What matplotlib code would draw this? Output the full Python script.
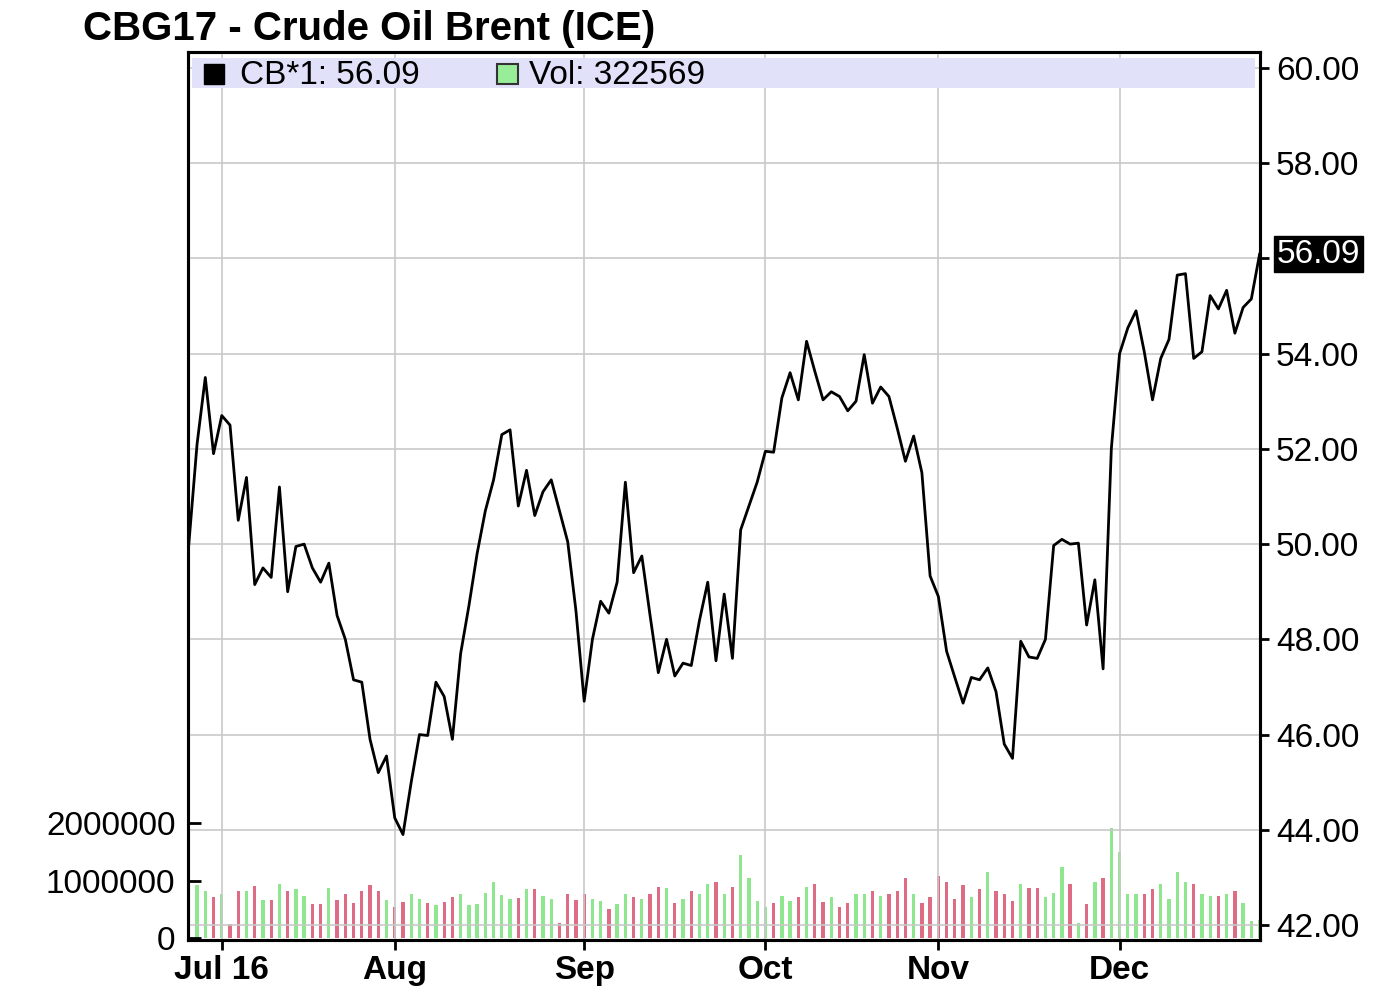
import numpy as np
import pandas as pd
import matplotlib
matplotlib.use('Agg')
import matplotlib.pyplot as plt
from matplotlib.patches import Rectangle
import matplotlib.transforms as mtransforms

plt.rcParams['font.family'] = ['Liberation Sans', 'DejaVu Sans']

# daily settlement, CBG17 (trading days from 27 Jun 2016)
price = [50.0, 52.1, 53.5, 51.9, 52.7, 52.5, 50.5, 51.4, 49.15, 49.5,
         49.3, 51.2, 49.0, 49.95, 50.0, 49.5, 49.2, 49.6, 48.5, 48.0,
         47.15, 47.1, 45.9, 45.2, 45.55, 44.25, 43.9, 45.0, 46.0, 45.98,
         47.1, 46.8, 45.9, 47.7, 48.7, 49.8, 50.7, 51.35, 52.3, 52.4,
         50.8, 51.55, 50.6, 51.1, 51.35, 50.7, 50.05, 48.6, 46.7, 48.0,
         48.8, 48.55, 49.2, 51.3, 49.4, 49.75, 48.5, 47.3, 48.0, 47.23,
         47.5, 47.45, 48.4, 49.2, 47.55, 48.95, 47.6, 50.3, 50.8, 51.3,
         51.95, 51.93, 53.07, 53.6, 53.03, 54.26, 53.63, 53.03, 53.2, 53.1,
         52.8, 53.0, 53.98, 52.96, 53.3, 53.1, 52.44, 51.74, 52.27, 51.5,
         49.33, 48.9, 47.75, 47.2, 46.66, 47.2, 47.15, 47.4, 46.9, 45.8,
         45.5, 47.96, 47.63, 47.6, 48.0, 49.97, 50.1, 50.0, 50.02, 48.3,
         49.25, 47.38, 52.0, 54.0, 54.54, 54.9, 54.04, 53.03, 53.9, 54.3,
         55.65, 55.68, 53.9, 54.04, 55.22, 54.94, 55.33, 54.43, 54.97, 55.15,
         56.09]

volume = [850000, 920000, 820000, 710000, 770000, 250000, 820000, 820000, 900000, 670000,
          670000, 940000, 830000, 860000, 740000, 600000, 600000, 880000, 670000, 770000,
          610000, 820000, 930000, 830000, 670000, 540000, 630000, 770000, 680000, 610000,
          570000, 630000, 710000, 770000, 570000, 600000, 780000, 980000, 760000, 680000,
          700000, 860000, 860000, 740000, 680000, 270000, 770000, 670000, 770000, 680000,
          640000, 510000, 600000, 770000, 710000, 680000, 770000, 890000, 880000, 610000,
          680000, 830000, 770000, 950000, 980000, 770000, 890000, 1450000, 1040000, 640000,
          550000, 610000, 730000, 640000, 710000, 890000, 940000, 630000, 710000, 540000,
          610000, 770000, 770000, 820000, 740000, 770000, 820000, 1040000, 770000, 610000,
          710000, 1090000, 980000, 680000, 920000, 710000, 860000, 1150000, 830000, 770000,
          650000, 940000, 880000, 880000, 710000, 780000, 1240000, 950000, 270000, 600000,
          980000, 1040000, 1910000, 1500000, 770000, 770000, 770000, 860000, 950000, 680000,
          1150000, 980000, 940000, 770000, 740000, 730000, 770000, 830000, 610000, 300000,
          322569]

title = 'CBG17 - Crude Oil Brent (ICE)'
price_ticks = [42, 44, 46, 48, 50, 52, 54, 56, 58, 60]
vol_ticks = [0, 1000000, 2000000]

dates = pd.bdate_range('2016-06-27', periods=len(price))
x = np.arange(len(price))
months = dates.to_period('M')
month_idx = list(np.flatnonzero(months[1:] != months[:-1]) + 1)
month_lbl = [dates[i].strftime('%b') for i in month_idx]
month_lbl[0] = dates[month_idx[0]].strftime('%b %y')

up = np.diff(price, prepend=price[0]) >= 0
bar_colors = np.where(up, '#8ee68e', '#de6c84')

fig = plt.figure(figsize=(14, 9.86), dpi=100)
ax_vol = fig.add_axes([188 / 1400, 46 / 986, 1072 / 1400, 888 / 986])
ax_price = ax_vol.twinx()

ax_vol.bar(x, volume, width=0.4, color=bar_colors, linewidth=0)
ax_vol.set_ylim(-30000, 15.4e6)
ax_vol.set_yticks(vol_ticks)
ax_vol.set_yticklabels([str(v) for v in vol_ticks])
ax_vol.tick_params(axis='y', direction='in', length=9.5, width=2, labelsize=24, pad=9)
ax_vol.tick_params(axis='x', direction='out', length=7, width=2, pad=4)
ax_vol.set_xticks(month_idx)
ax_vol.set_xticklabels(month_lbl, fontsize=24, fontweight='bold')

ax_price.plot(x, price, color='black', linewidth=2.0, zorder=3)
ax_price.set_ylim(41.685, 60.336)
ax_price.set_xlim(-0.1, 130.05)
ax_price.set_yticks(price_ticks)
# the 56.00 label sits under the last-price tag
ax_price.set_yticklabels(['' if t == 56 else f'{t:.2f}' for t in price_ticks])
ax_price.tick_params(axis='y', direction='out', length=6.5, width=2, labelsize=24, pad=5)
ax_price.grid(True, axis='y', color='#c9c9c9', linewidth=1.2)
for i in month_idx:
    ax_price.axvline(i, color='#c9c9c9', linewidth=1.2, zorder=1)

for a in (ax_vol, ax_price):
    for s in a.spines.values():
        s.set_linewidth(2.2)
        s.set_color('black')

# last price tag
tr = mtransforms.blended_transform_factory(ax_price.transAxes, ax_price.transData)
ax_price.text(1.0155, price[-1], f'{price[-1]:.2f}', transform=tr, fontsize=24,
              color='white', va='center', ha='left', clip_on=False,
              bbox=dict(boxstyle='square,pad=0.08', facecolor='black', edgecolor='black'))

# legend band
ax_price.add_patch(Rectangle((0.004, 0.9595), 0.991, 0.034, transform=ax_price.transAxes,
                             facecolor='#e1e1f9', edgecolor='none', zorder=4))
ax_price.add_patch(Rectangle((0.0145, 0.964), 0.019, 0.022, transform=ax_price.transAxes,
                             facecolor='black', edgecolor='black', zorder=5))
ax_price.text(0.0485, 0.974, f'CB*1: {price[-1]:.2f}', transform=ax_price.transAxes,
              fontsize=24, va='center', ha='left', zorder=6)
ax_price.add_patch(Rectangle((0.2885, 0.964), 0.019, 0.022, transform=ax_price.transAxes,
                             facecolor='#98ee98', edgecolor='#333333', linewidth=1.5, zorder=5))
ax_price.text(0.3185, 0.974, f'Vol: {volume[-1]}', transform=ax_price.transAxes,
              fontsize=24, va='center', ha='left', zorder=6)

fig.text(83 / 1400, 1 - 29 / 986, title, fontsize=29, fontweight='bold', va='center', ha='left')

plt.savefig('out.png', dpi=100)
